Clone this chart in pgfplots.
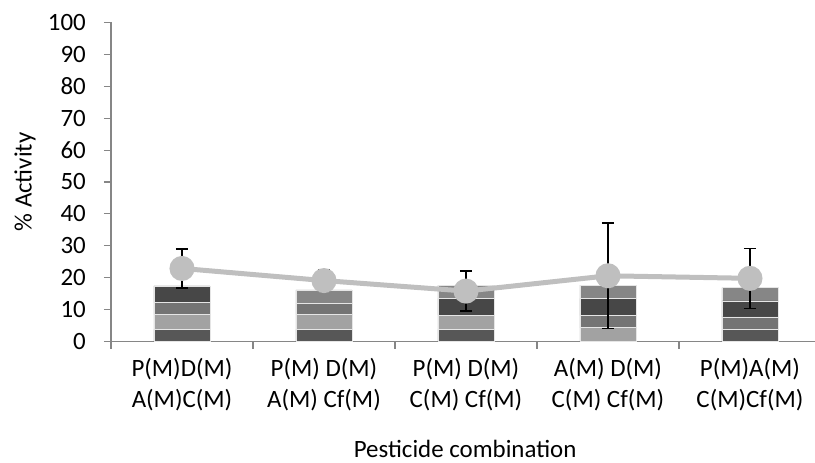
\documentclass[border=0pt]{standalone}
\usepackage{pgfplots}
\pgfplotsset{compat=1.18}
\usepackage{fontspec}
\setmainfont{Carlito}
\definecolor{cP}{HTML}{575757}
\definecolor{cD}{HTML}{A2A2A2}
\definecolor{cA}{HTML}{747474}
\definecolor{cC}{HTML}{474747}
\definecolor{cCf}{HTML}{868686}
\definecolor{lgray}{HTML}{BFBFBF}
\definecolor{axgray}{HTML}{868686}
\begin{document}
\begin{tikzpicture}
\useasboundingbox (0,0) rectangle (815bp,463bp);
\pgfplotsset{base/.style={scale only axis, width=704bp, height=319bp,
  at={(111bp,121.5bp)}, anchor=south west,
  xmin=-0.5, xmax=4.458, ymin=0, ymax=100, clip=false}}
\begin{axis}[base, ybar stacked, bar width=56bp,
  /pgf/number format/assume math mode=true,
  axis x line*=bottom, axis y line*=left,
  axis line style={-, draw=axgray, line width=1.1bp},
  tick align=outside, major tick length=7bp,
  tick style={draw=axgray, line width=1.1bp},
  ytick={0,10,...,100},
  yticklabel style={font=\fontsize{25}{30}\selectfont, anchor=east, inner sep=0pt, xshift=-18bp},
  xtick={-0.5,0.5,1.5,2.5,3.5},
  xticklabels={},
  extra x ticks={0,1,2,3,4},
  extra x tick labels={{P(M)D(M)\\A(M)C(M)},{P(M) D(M)\\A(M) Cf(M)},{P(M) D(M)\\C(M) Cf(M)},{A(M) D(M)\\C(M) Cf(M)},{P(M)A(M)\\C(M)Cf(M)}},
  extra x tick style={major tick length=0pt, tick label style={font=\fontsize{25}{30.5}\selectfont, align=center, anchor=north, inner sep=0pt, yshift=-17bp}},
  ylabel={\% Activity},
  ylabel style={font=\fontsize{25}{30}\selectfont, at={(axis description cs:-0.122,0.5)}, anchor=center, rotate=0},
  xlabel={Pesticide combination},
  xlabel style={font=\fontsize{25}{30}\selectfont, at={(axis description cs:0.503,-0.336)}, anchor=center},
  every axis plot/.append style={draw=white!80!gray, line width=0.6bp},
]
\addplot[fill=cP] coordinates {(0,3.8) (1,3.8) (2,3.8) (3,0) (4,3.8)};
\addplot[fill=cD] coordinates {(0,4.6) (1,4.6) (2,4.5) (3,4.3) (4,0)};
\addplot[fill=cA] coordinates {(0,3.8) (1,3.6) (2,0) (3,4.0) (4,3.9)};
\addplot[fill=cC] coordinates {(0,5.2) (1,0) (2,5.2) (3,5.2) (4,5.0)};
\addplot[fill=cCf] coordinates {(0,0) (1,4.2) (2,4.2) (3,4.2) (4,4.2)};
\end{axis}
\begin{axis}[base, hide axis]
\addplot[draw=none, mark=none, forget plot,
  error bars/.cd, y dir=both, y explicit,
  error bar style={draw=black, line width=1.5bp},
  error mark options={rotate=90, mark size=6bp, line width=1.5bp, draw=black}]
  coordinates {(0,22.9) +- (0,6.1) (1,19.1) +- (0,3.3) (2,15.8) +- (0,6.3) (3,20.6) +- (0,16.6) (4,19.8) +- (0,9.4)};
\addplot[color=lgray, line width=5bp, mark=*, mark size=10bp, mark options={fill=lgray, draw=none}]
  coordinates {(0,22.9) (1,19.1) (2,15.8) (3,20.6) (4,19.8)};
\end{axis}
\end{tikzpicture}
\end{document}
